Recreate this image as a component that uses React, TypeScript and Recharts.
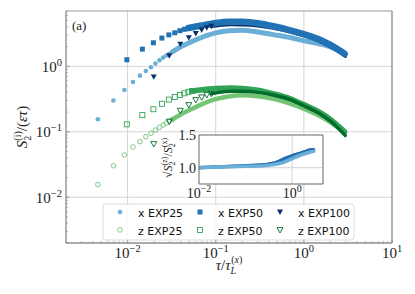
import React from 'react';
import { ComposedChart, Scatter, Line, XAxis, YAxis, ReferenceLine } from 'recharts';

// early samples (drawn as single markers), tau/tauL vs S2/(eps tau)
const xExp25Pts: [number, number][] = [
  [0.0046, 0.155], [0.0069, 0.3], [0.0092, 0.435], [0.0115, 0.575], [0.0138, 0.72], [0.0161, 0.85],
  [0.0184, 0.97], [0.0207, 1.1], [0.023, 1.24], [0.0253, 1.36], [0.0276, 1.46], [0.0299, 1.56], [0.0322, 1.66],
];
const xExp50Pts: [number, number][] = [
  [0.0098, 1.26], [0.0147, 1.83], [0.0196, 2.29], [0.0245, 2.7], [0.0294, 3.02], [0.0343, 3.25], [0.0392, 3.5],
  [0.0441, 3.68], [0.049, 3.85],
];
const xExp100Pts: [number, number][] = [
  [0.0198, 0.69], [0.0297, 1.45], [0.0396, 2.19], [0.0495, 2.75], [0.0594, 3.17], [0.0693, 3.6], [0.0792, 3.9],
  [0.0891, 4.1],
];
const zExp25Pts: [number, number][] = [
  [0.0046, 0.0156], [0.0069, 0.0303], [0.0092, 0.0443], [0.0115, 0.0586], [0.0138, 0.0707], [0.0161, 0.0841],
  [0.0184, 0.095], [0.0207, 0.106], [0.023, 0.117], [0.0253, 0.127], [0.0276, 0.136], [0.0299, 0.145], [0.0322, 0.154],
];
const zExp50Pts: [number, number][] = [
  [0.0098, 0.13], [0.0147, 0.18], [0.0196, 0.221], [0.0245, 0.268], [0.0294, 0.31], [0.0343, 0.34], [0.0392, 0.365],
  [0.0441, 0.387], [0.049, 0.408], [0.0539, 0.42],
];
const zExp100Pts: [number, number][] = [
  [0.0198, 0.065], [0.0297, 0.143], [0.0396, 0.21], [0.0495, 0.256], [0.0594, 0.306], [0.0693, 0.336],
  [0.0792, 0.365], [0.0891, 0.38],
];

// dense part of each run (markers overlap into a band)
const xExp25Band: [number, number][] = [
  [0.0322, 1.66], [0.04, 1.98], [0.05, 2.3], [0.0625, 2.62], [0.08, 2.98], [0.1, 3.25], [0.14, 3.5], [0.2, 3.55],
  [0.3, 3.35], [0.45, 3.05], [0.7, 2.75], [1.0, 2.46], [1.5, 2.2], [2.0, 1.98], [2.5, 1.78], [2.9, 1.6],
];
const xExp50Band: [number, number][] = [
  [0.049, 3.85], [0.06, 4.05], [0.075, 4.3], [0.1, 4.6], [0.14, 4.8], [0.2, 4.78], [0.3, 4.55], [0.45, 4.1],
  [0.7, 3.55], [1.0, 3.1], [1.5, 2.58], [2.0, 2.12], [2.5, 1.77], [2.9, 1.55],
];
const xExp100Band: [number, number][] = [
  [0.0891, 4.1], [0.11, 4.25], [0.15, 4.35], [0.2, 4.33], [0.3, 4.18], [0.45, 3.85], [0.7, 3.38], [1.0, 2.95],
  [1.5, 2.43], [2.0, 2.0], [2.5, 1.67], [2.95, 1.43],
];
const zExp25Band: [number, number][] = [
  [0.0322, 0.154], [0.045, 0.2], [0.06, 0.24], [0.08, 0.285], [0.1, 0.315], [0.14, 0.345], [0.2, 0.36],
  [0.3, 0.35], [0.45, 0.32], [0.7, 0.27], [1.0, 0.225], [1.5, 0.175], [2.0, 0.14], [2.5, 0.115], [2.9, 0.1],
];
const zExp50Band: [number, number][] = [
  [0.0539, 0.42], [0.07, 0.44], [0.1, 0.458], [0.15, 0.465], [0.2, 0.46], [0.3, 0.43], [0.45, 0.38],
  [0.7, 0.32], [1.0, 0.26], [1.5, 0.2], [2.0, 0.155], [2.5, 0.12], [2.9, 0.1],
];
const zExp100Band: [number, number][] = [
  [0.0891, 0.38], [0.11, 0.4], [0.15, 0.415], [0.2, 0.415], [0.3, 0.4], [0.45, 0.365], [0.7, 0.31], [1.0, 0.25],
  [1.5, 0.19], [2.0, 0.145], [2.5, 0.11], [2.95, 0.088],
];

// inset: sqrt(S2z/S2x)
const insetExp25: [number, number][] = [
  [0.0092, 1.0], [0.02, 1.01], [0.05, 1.015], [0.1, 1.02], [0.2, 1.025], [0.3, 1.035], [0.5, 1.06], [0.7, 1.09],
  [1.0, 1.14], [1.5, 1.19], [2.0, 1.22], [2.5, 1.24], [2.9, 1.25],
];
const insetExp50: [number, number][] = [
  [0.0098, 1.0], [0.02, 1.01], [0.05, 1.02], [0.1, 1.03], [0.2, 1.04], [0.3, 1.05], [0.5, 1.09], [0.7, 1.14],
  [1.0, 1.18], [1.5, 1.22], [2.0, 1.25], [2.5, 1.27], [2.9, 1.27],
];
const insetExp100: [number, number][] = [
  [0.0198, 1.02], [0.03, 1.02], [0.05, 1.02], [0.1, 1.03], [0.2, 1.04], [0.3, 1.06], [0.5, 1.1], [0.7, 1.15],
  [1.0, 1.19], [1.5, 1.23], [2.0, 1.26], [2.5, 1.28], [2.95, 1.28],
];

const xTicks = [
  0.002, 0.003, 0.004, 0.005, 0.006, 0.007, 0.008, 0.009,
  0.01, 0.02, 0.03, 0.04, 0.05, 0.06, 0.07, 0.08, 0.09,
  0.1, 0.2, 0.3, 0.4, 0.5, 0.6, 0.7, 0.8, 0.9,
  1, 2, 3, 4, 5, 6, 7, 8, 9, 10,
];
const yTicks = [
  0.002, 0.003, 0.004, 0.005, 0.006, 0.007, 0.008, 0.009,
  0.01, 0.02, 0.03, 0.04, 0.05, 0.06, 0.07, 0.08, 0.09,
  0.1, 0.2, 0.3, 0.4, 0.5, 0.6, 0.7, 0.8, 0.9,
  1, 2, 3, 4, 5, 6, 7,
];
const gridX = [0.01, 0.1, 1];
const gridY = [0.01, 0.1, 1];
const insetXTicks = [0.01, 1];
const insetYTicks = [1.0, 1.5];

const C = {
  x25: '#6baed6', x50: '#2171b5', x100: '#08306b',
  z25: '#74c476', z50: '#31a354', z100: '#006d2c',
};

const SERIF = '"Liberation Serif", "DejaVu Serif", serif';
const SANS = '"DejaVu Sans", sans-serif';

const pts = (a: [number, number][]) => a.map(([x, y]) => ({ x, y }));

const mk = (kind: string, color: string, open: boolean) => (p: any) => {
  const { cx, cy } = p;
  if (cx == null || cy == null) return <g />;
  const fill = open ? 'none' : color;
  const sw = open ? 0.9 : 0;
  if (kind === 'circle') return <circle cx={cx} cy={cy} r={2.3} fill={fill} stroke={color} strokeWidth={sw} />;
  if (kind === 'square') return <rect x={cx - 2.5} y={cy - 2.5} width={5} height={5} fill={fill} stroke={color} strokeWidth={sw} />;
  return <path d={`M${cx - 3},${cy - 2.4}L${cx + 3},${cy - 2.4}L${cx},${cy + 3}Z`} fill={fill} stroke={color} strokeWidth={sw} />;
};

// legend order = column-wise like matplotlib ncol=3
const series = [
  { name: 'x EXP25', p: xExp25Pts, band: xExp25Band, color: C.x25, kind: 'circle', open: false, bw: 5 },
  { name: 'z EXP25', p: zExp25Pts, band: zExp25Band, color: C.z25, kind: 'circle', open: true, bw: 4.5 },
  { name: 'x EXP50', p: xExp50Pts, band: xExp50Band, color: C.x50, kind: 'square', open: false, bw: 6.5 },
  { name: 'z EXP50', p: zExp50Pts, band: zExp50Band, color: C.z50, kind: 'square', open: true, bw: 5.5 },
  { name: 'x EXP100', p: xExp100Pts, band: xExp100Band, color: C.x100, kind: 'tri', open: false, bw: 3.5 },
  { name: 'z EXP100', p: zExp100Pts, band: zExp100Band, color: C.z100, kind: 'tri', open: true, bw: 3.5 },
];
// band stacking: navy goes under the EXP50 blue band, as in the original
const bandOrder = ['x EXP25', 'z EXP25', 'x EXP100', 'x EXP50', 'z EXP50', 'z EXP100'];

// light blue drawn last so it dominates, darker runs peek out above it
const insetSeries = [
  { name: 'EXP100', d: insetExp100, color: C.x100, w: 2 },
  { name: 'EXP50', d: insetExp50, color: C.x50, w: 3.5 },
  { name: 'EXP25', d: insetExp25, color: C.x25, w: 3.5 },
];

const isMajor = (v: number) => Math.abs(Math.log10(v) - Math.round(Math.log10(v))) < 1e-6;
const expo = (v: number) => String(Math.round(Math.log10(v))).replace('-', '\u2212');

const XTick = (props: any) => {
  const { x, y, payload } = props;
  const v = payload.value;
  const major = isMajor(v);
  return (
    <g>
      <line x1={x} x2={x} y1={y} y2={y - (major ? 3.5 : 2)} stroke="#888" strokeWidth={major ? 0.9 : 0.6} />
      {major && (
        <text x={x} y={y + 15} textAnchor="middle" fontFamily={SERIF} fill="#222">
          <tspan fontSize={15}>10</tspan>
          <tspan fontSize={10.5} dy={-6}>{expo(v)}</tspan>
        </text>
      )}
    </g>
  );
};

const YTick = (props: any) => {
  const { x, y, payload } = props;
  const v = payload.value;
  const major = isMajor(v);
  return (
    <g>
      <line x1={x} x2={x + (major ? 3.5 : 2)} y1={y} y2={y} stroke="#888" strokeWidth={major ? 0.9 : 0.6} />
      {major && (
        <text x={x - 4} y={y + 5.4} textAnchor="end" fontFamily={SERIF} fill="#222">
          <tspan fontSize={15}>10</tspan>
          <tspan fontSize={10.5} dy={-6}>{expo(v)}</tspan>
        </text>
      )}
    </g>
  );
};

const InsetXTick = (props: any) => {
  const { x, y, payload } = props;
  return (
    <text x={x} y={y + 14} textAnchor="middle" fontFamily={SERIF} fill="#222">
      <tspan fontSize={14}>10</tspan>
      <tspan fontSize={10} dy={-6}>{expo(payload.value)}</tspan>
    </text>
  );
};

const InsetYTick = (props: any) => {
  const { x, y, payload } = props;
  return (
    <text x={x - 3} y={y + 5} textAnchor="end" fontFamily={SERIF} fontSize={14} fill="#222">
      {payload.value.toFixed(1)}
    </text>
  );
};

export default function App() {
  const bands = bandOrder.map((n) => series.find((s) => s.name === n)!);
  return (
    <div style={{ position: 'absolute', left: 0, top: 0, width: 415, height: 294, background: '#fff', overflow: 'hidden' }}>
      <div style={{ position: 'absolute', left: 0, top: 0 }}>
        <ComposedChart width={415} height={294} margin={{ top: 11, right: 23, bottom: 0, left: 0 }}>
          <XAxis
            dataKey="x" type="number" scale="log" domain={[0.002, 10]} allowDataOverflow
            ticks={xTicks} interval={0} tick={(p: any) => <XTick {...p} />}
            tickLine={false} tickSize={0} tickMargin={0} height={51}
            axisLine={{ stroke: '#aaa', strokeWidth: 1.8 }}
          />
          <YAxis
            dataKey="y" type="number" scale="log" domain={[0.002, 7]} allowDataOverflow
            ticks={yTicks} interval={0} tick={(p: any) => <YTick {...p} />}
            tickLine={false} tickSize={0} tickMargin={0} width={66}
            axisLine={{ stroke: '#aaa', strokeWidth: 1.8 }}
          />
          {gridX.map((v) => <ReferenceLine key={'gx' + v} x={v} stroke="#d4d4d4" strokeWidth={1} />)}
          {gridY.map((v) => <ReferenceLine key={'gy' + v} y={v} stroke="#d4d4d4" strokeWidth={1} />)}
          <ReferenceLine x={10} stroke="#999" strokeWidth={1.5} />
          <ReferenceLine y={7} stroke="#999" strokeWidth={1} />
          {bands.map((s) => (
            <Line
              key={s.name + 'band'} data={pts(s.band)} dataKey="y" type="monotone" stroke={s.color}
              strokeWidth={s.bw} strokeLinecap="round" dot={false} isAnimationActive={false}
            />
          ))}
          {series.map((s) => (
            <Scatter key={s.name} name={s.name} data={pts(s.p)} shape={mk(s.kind, s.color, s.open)} isAnimationActive={false} />
          ))}
        </ComposedChart>
      </div>

      {/* inset */}
      <div style={{ position: 'absolute', left: 199, top: 135, width: 124, height: 49, background: '#fff' }} />
      <div style={{ position: 'absolute', left: 150, top: 120 }}>
        <ComposedChart width={180} height={82} margin={{ top: 15, right: 7, bottom: 0, left: 0 }}>
          <XAxis
            dataKey="x" type="number" scale="log" domain={[0.01, 4.6]} allowDataOverflow
            ticks={insetXTicks} interval={0} tick={(p: any) => <InsetXTick {...p} />}
            tickLine={false} tickSize={0} tickMargin={0} height={18}
            axisLine={{ stroke: '#666', strokeWidth: 1 }}
          />
          <YAxis
            dataKey="y" type="number" domain={[0.75, 1.5]} allowDataOverflow
            ticks={insetYTicks} interval={0} tick={(p: any) => <InsetYTick {...p} />}
            tickLine={false} tickSize={0} tickMargin={0} width={49}
            axisLine={{ stroke: '#666', strokeWidth: 1 }}
          />
          <ReferenceLine y={1.0} stroke="#d4d4d4" />
          <ReferenceLine x={1} stroke="#d4d4d4" />
          <ReferenceLine y={1.5} stroke="#666" />
          <ReferenceLine x={4.6} stroke="#666" />
          {insetSeries.map((s) => (
            <Line
              key={s.name} data={pts(s.d)} dataKey="y" type="monotone" stroke={s.color}
              strokeWidth={s.w} strokeLinecap="round" dot={false} isAnimationActive={false}
            />
          ))}
        </ComposedChart>
      </div>

      <svg width={415} height={294} style={{ position: 'absolute', left: 0, top: 0, pointerEvents: 'none' }}>
        <text x={72} y={30} fontFamily={SERIF} fontSize={13} fill="#222">(a)</text>

        <text transform="translate(27,127) rotate(-90)" textAnchor="middle" fontFamily={SERIF} fontSize={15} fill="#222">
          <tspan fontStyle="italic">S</tspan>
          <tspan fontSize={10} dy={4}>2</tspan>
          <tspan fontSize={10} dx={-5} dy={-10}>(i)</tspan>
          <tspan dy={6}>/(</tspan>
          <tspan fontStyle="italic">ετ</tspan>
          <tspan>)</tspan>
        </text>

        <text x={229} y={270} textAnchor="middle" fontFamily={SERIF} fontSize={15} fill="#222">
          <tspan fontStyle="italic">τ</tspan>
          <tspan>/</tspan>
          <tspan fontStyle="italic">τ</tspan>
          <tspan fontSize={10} fontStyle="italic" dy={4}>L</tspan>
          <tspan fontSize={10} dx={-5} dy={-11}>(</tspan>
          <tspan fontSize={10} fontStyle="italic">x</tspan>
          <tspan fontSize={10}>)</tspan>
        </text>

        <text transform="translate(172,158) rotate(-90)" textAnchor="middle" fontFamily={SERIF} fontSize={12} fill="#222">
          <tspan>√</tspan>
          <tspan fontStyle="italic">S</tspan>
          <tspan fontSize={8} dy={3}>2</tspan>
          <tspan fontSize={8} dx={-4} dy={-8}>(z)</tspan>
          <tspan dy={5}>/</tspan>
          <tspan fontStyle="italic">S</tspan>
          <tspan fontSize={8} dy={3}>2</tspan>
          <tspan fontSize={8} dx={-4} dy={-8}>(x)</tspan>
        </text>

        <rect x={103} y={204} width={251} height={36} rx={3} fill="#fff" fillOpacity={0.85} stroke="#d0d0d0" strokeWidth={0.8} />
        {series.map((s, i) => {
          const col = Math.floor(i / 2);
          const row = i % 2;
          const mx = 120 + col * 80;
          const my = 212 + row * 18;
          return (
            <g key={'lg' + s.name}>
              {mk(s.kind, s.color, s.open)({ cx: mx, cy: my })}
              <text x={mx + 18} y={my + 4.5} fontFamily={SANS} fontSize={11} fill="#111">{s.name}</text>
            </g>
          );
        })}
      </svg>
    </div>
  );
}
